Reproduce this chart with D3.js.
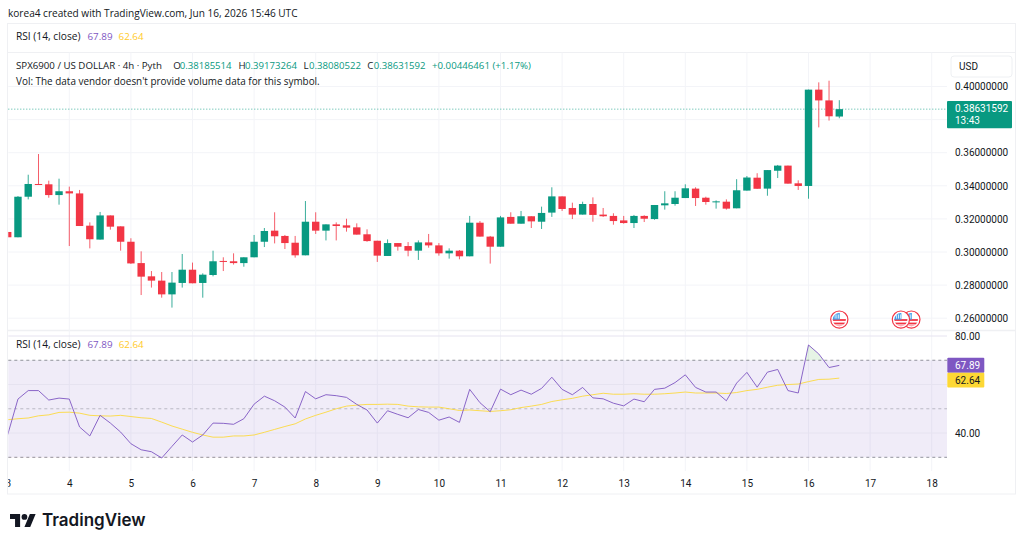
<!DOCTYPE html>
<html>
<head>
<meta charset="utf-8">
<script src="https://cdn.jsdelivr.net/npm/d3@7/dist/d3.min.js"></script>
<style>
html,body{margin:0;padding:0;background:#fff;overflow:hidden}
svg{display:block}
text{font-family:"Open Sans","Noto Sans",sans-serif;fill:#131722}
</style>
</head>
<body>
<svg id="chart" width="1024" height="546"></svg>
<script>
// SPX6900 / USD, 4h candles, one row per bar
const opens  = [.3121,.3089,.3334,.3411,.3409,.3344,.3367,.3354,.3159,.3075,.3221,.3155,.3062,.2933,.2853,.2827,.2744,.2813,.2893,.2813,.2861,.2946,.2944,.2933,.2968,.3062,.3129,.3097,.3056,.2980,.3183,.3129,.3167,.3161,.3149,.3107,.3068,.2976,.3054,.3036,.3008,.3058,.3040,.2992,.3008,.2974,.3177,.3093,.3032,.3212,.3171,.3216,.3183,.3238,.3336,.3266,.3226,.3290,.3226,.3218,.3191,.3175,.3218,.3199,.3282,.3290,.3326,.3383,.3328,.3300,.3304,.3264,.3371,.3449,.3383,.3491,.3522,.3415,.3399,.3981,.3916,.38185514];
const highs  = [.3121,.3338,.3467,.3592,.3431,.3443,.3395,.3375,.3179,.3242,.3221,.3155,.3083,.3004,.2885,.2879,.2879,.2988,.2936,.2871,.3008,.2968,.2992,.2968,.3103,.3145,.3240,.3103,.3097,.3308,.3240,.3167,.3179,.3201,.3173,.3137,.3068,.3076,.3054,.3060,.3070,.3109,.3054,.3022,.3012,.3218,.3187,.3097,.3218,.3240,.3248,.3216,.3274,.3391,.3336,.3298,.3304,.3330,.3266,.3234,.3218,.3224,.3222,.3284,.3367,.3367,.3409,.3391,.3334,.3312,.3318,.3440,.3459,.3476,.3495,.3526,.3522,.3433,.3981,.4025,.4035,.39173264];
const lows   = [.3089,.3089,.3318,.3407,.3328,.3286,.3036,.3157,.3022,.3075,.3135,.3008,.2928,.2740,.2785,.2724,.2664,.2785,.2811,.2724,.2853,.2885,.2924,.2911,.2968,.3030,.3052,.3018,.2966,.2980,.3109,.3070,.3070,.3123,.3105,.3062,.2940,.2976,.3008,.2974,.2952,.3026,.2978,.2960,.2956,.2974,.3093,.2930,.3032,.3171,.3171,.3145,.3139,.3212,.3248,.3199,.3226,.3183,.3212,.3165,.3171,.3145,.3181,.3195,.3256,.3280,.3326,.3278,.3286,.3262,.3256,.3264,.3371,.3382,.3340,.3447,.3413,.3375,.3322,.3753,.3794,.38080522];
const closes = [.3089,.3334,.3411,.3407,.3344,.3367,.3354,.3157,.3077,.3221,.3153,.3062,.2931,.2851,.2827,.2744,.2815,.2893,.2811,.2863,.2944,.2942,.2933,.2968,.3062,.3127,.3095,.3054,.2980,.3183,.3129,.3167,.3157,.3147,.3105,.3066,.2978,.3054,.3032,.3008,.3058,.3040,.2992,.3008,.2974,.3177,.3093,.3032,.3209,.3171,.3216,.3185,.3236,.3336,.3260,.3226,.3290,.3224,.3216,.3187,.3175,.3218,.3201,.3284,.3294,.3328,.3385,.3326,.3302,.3306,.3262,.3373,.3450,.3382,.3495,.3522,.3413,.3399,.3981,.3916,.3820,.38631592];

// RSI (14) and its moving average, same bars
const rsi = [39.3,54.0,57.5,57.5,53.6,54.4,54.0,42.5,38.8,47.3,44.1,40.4,35.6,33.1,32.3,29.7,34.5,39.2,36.3,39.2,44.1,44.0,43.6,45.9,51.9,55.2,53.3,50.7,46.2,57.1,54.1,55.8,55.4,54.7,51.8,49.5,44.1,49.2,47.7,46.3,49.7,48.5,45.3,46.6,44.4,58.0,52.5,48.8,58.1,55.8,57.7,56.0,58.4,63.0,58.0,55.8,58.8,54.5,54.1,52.3,51.2,54.0,52.9,58.0,58.5,60.8,64.0,58.8,56.9,56.9,53.3,60.6,65.0,58.9,65.1,66.2,57.5,56.5,76.3,72.6,67.0,67.89];
const rsiMA = [45.5,45.9,46.2,47.1,47.5,48.5,48.6,48.2,47.3,47.1,47.0,47.3,46.8,46.3,46.0,44.5,42.9,41.6,40.3,39.2,38.3,38.3,38.8,38.8,39.2,40.3,41.5,42.7,43.8,45.8,47.3,48.6,50.0,51.1,51.5,51.8,51.8,51.9,51.8,51.1,50.8,50.7,50.7,50.0,49.3,49.5,49.2,48.9,49.2,49.6,50.5,51.1,51.8,53.0,53.7,54.3,55.2,55.8,56.4,56.0,56.0,56.2,56.0,56.0,56.2,56.5,56.9,56.5,56.5,56.5,56.3,56.7,57.5,58.0,58.9,59.7,60.0,60.2,61.2,62.1,62.2,62.64];

// Axis ticks and marker dates
const dayTicks = [3,4,5,6,7,8,9,10,11,12,13,14,15,16,17,18];
const priceGrid = [0.40,0.38,0.36,0.34,0.32,0.30,0.28,0.26];
const priceLabels = [0.40,0.36,0.34,0.32,0.30,0.28,0.26];
const rsiGrid = [80,60,40];
const rsiLabels = [80,40];
const rsiBands = [70,50,30];
const eventDays = [16.5,17.5,17.67];

const lastPrice = closes[closes.length-1];
const lastRsi = rsi[rsi.length-1];
const lastMA = rsiMA[rsiMA.length-1];

const UP = "#089981", DOWN = "#f23645", VIOLET = "#7e57c2", AMBER = "#fdd835", GRID = "#f3f4f8";
const NUM = "Roboto,sans-serif";
const L = 8.3, R = 947, PRICE_TOP = 52.5, RSI_TOP = 331, RSI_BOTTOM = 471;

const svg = d3.select("#chart");
const x = d3.scaleLinear().domain([3,18]).range([7.7,931.7]);
const y = d3.scaleLinear().domain([0.26,0.40]).range([318.2,86.5]);
const yR = d3.scaleLinear().domain([30,80]).range([457.3,336]);
const barX = i => x(3 + i/6);
const bars = d3.range(opens.length).map(i => ({i,o:opens[i],h:highs[i],l:lows[i],c:closes[i]}));

const defs = svg.append("defs");
defs.append("clipPath").attr("id","plot").append("rect").attr("x",L).attr("y",PRICE_TOP).attr("width",R-L).attr("height",RSI_BOTTOM-PRICE_TOP);
defs.append("clipPath").attr("id","timeClip").append("rect").attr("x",L).attr("y",472).attr("width",R-L).attr("height",21);
defs.append("clipPath").attr("id","above70").append("rect").attr("x",L).attr("y",RSI_TOP).attr("width",R-L).attr("height",yR(70)-RSI_TOP);
defs.append("clipPath").attr("id","below30").append("rect").attr("x",L).attr("y",yR(30)).attr("width",R-L).attr("height",RSI_BOTTOM-yR(30));
defs.append("clipPath").attr("id","flagDisc").append("circle").attr("r",6.6);

// Pane frames
const frame = svg.append("g").attr("stroke","#eff0f3").attr("fill","none");
frame.append("rect").attr("x",7.5).attr("y",23.5).attr("width",1008).attr("height",470.5);
frame.append("line").attr("x1",7.5).attr("x2",1015.5).attr("y1",52.5).attr("y2",52.5);
frame.append("line").attr("x1",7.5).attr("x2",1015.5).attr("y1",330.5).attr("y2",330.5).attr("stroke-width",1.5);

// Grid
const grid = svg.append("g").attr("stroke",GRID).attr("stroke-width",1);
grid.selectAll(".gv").data(dayTicks.slice(1)).join("line")
  .attr("x1",d=>x(d)).attr("x2",d=>x(d)).attr("y1",PRICE_TOP).attr("y2",RSI_BOTTOM);
grid.selectAll(".gp").data(priceGrid).join("line")
  .attr("x1",L).attr("x2",R).attr("y1",d=>y(d)).attr("y2",d=>y(d));

// RSI background band and reference levels
svg.append("rect").attr("x",L).attr("width",R-L).attr("y",yR(70)).attr("height",yR(30)-yR(70)).attr("fill",VIOLET).attr("fill-opacity",0.115);
svg.append("g").attr("stroke","#e6e3f0").selectAll("line").data(rsiGrid).join("line")
  .attr("x1",L).attr("x2",R).attr("y1",d=>yR(d)).attr("y2",d=>yR(d));
svg.append("g").selectAll("line").data(rsiBands).join("line")
  .attr("x1",L).attr("x2",R).attr("y1",d=>yR(d)).attr("y2",d=>yR(d))
  .attr("stroke","#787b86").attr("stroke-opacity",d=>d===50?0.45:0.8).attr("stroke-dasharray","3 3");

// Last price line
svg.append("line").attr("x1",L).attr("x2",R).attr("y1",y(lastPrice)).attr("y2",y(lastPrice))
  .attr("stroke",UP).attr("stroke-opacity",.75).attr("stroke-dasharray","1 2");

// Candles
const plot = svg.append("g").attr("clip-path","url(#plot)");
plot.selectAll(".wick").data(bars).join("line").attr("class","wick")
  .attr("x1",d=>barX(d.i)).attr("x2",d=>barX(d.i)).attr("y1",d=>y(d.h)).attr("y2",d=>y(d.l))
  .attr("stroke",d=>d.c>=d.o?UP:DOWN).attr("stroke-width",1).attr("stroke-opacity",.8);
plot.selectAll(".body").data(bars).join("rect").attr("class","body")
  .attr("x",d=>barX(d.i)-3.7).attr("width",7.4)
  .attr("y",d=>y(Math.max(d.o,d.c))).attr("height",d=>Math.max(1,Math.abs(y(d.o)-y(d.c))))
  .attr("fill",d=>d.c>=d.o?UP:DOWN);

// RSI overbought and oversold shading
const series = svg.append("g").attr("clip-path","url(#plot)");
series.append("path").datum(rsi).attr("clip-path","url(#above70)")
  .attr("d",d3.area().x((d,i)=>barX(i)).y0(yR(70)).y1(d=>yR(d))).attr("fill","#4caf50").attr("fill-opacity",.14);
series.append("path").datum(rsi).attr("clip-path","url(#below30)")
  .attr("d",d3.area().x((d,i)=>barX(i)).y0(yR(30)).y1(d=>yR(d))).attr("fill","#f23645").attr("fill-opacity",.14);
// RSI and moving average lines
const rsiLine = d3.line().x((d,i)=>barX(i)).y(d=>yR(d));
series.append("path").datum(rsiMA).attr("d",rsiLine).attr("fill","none").attr("stroke",AMBER).attr("stroke-opacity",.85).attr("stroke-width",1);
series.append("path").datum(rsi).attr("d",rsiLine).attr("fill","none").attr("stroke",VIOLET).attr("stroke-opacity",.9).attr("stroke-width",1);

// Economic event markers
const flag = svg.append("g").selectAll("g").data(eventDays.slice().reverse()).join("g")
  .attr("transform",d=>`translate(${x(d)},319.6)`);
flag.append("circle").attr("r",8.6).attr("fill","#fff").attr("stroke",DOWN).attr("stroke-width",1.2);
const disc = flag.append("g").attr("clip-path","url(#flagDisc)");
disc.append("circle").attr("r",6.6).attr("fill","#fff");
disc.selectAll(".stripe").data([-0.5,3,6]).join("rect").attr("x",-7).attr("width",14).attr("y",d=>d).attr("height",1.8).attr("fill",DOWN);
disc.append("rect").attr("x",-7).attr("y",-7).attr("width",7.5).attr("height",7).attr("fill","#3d9be9");
disc.selectAll(".star").data([-4.6,-2.8,-1]).join("rect").attr("x",d=>d).attr("y",-5.2).attr("width",.8).attr("height",4.2).attr("fill","#fff");

// Axes
function styleAxis(g){
  g.select(".domain").remove();
  g.selectAll(".tick line").remove();
  g.selectAll("text").attr("fill","#131722").attr("font-size",10).style("font-family",NUM);
}
svg.append("g").attr("transform",`translate(955,0)`)
  .call(d3.axisRight(y).tickValues(priceLabels).tickFormat(d3.format(".8f")).tickSize(0).tickPadding(0))
  .call(styleAxis);
svg.append("g").attr("transform",`translate(955,0)`)
  .call(d3.axisRight(yR).tickValues(rsiLabels).tickFormat(d3.format(".2f")).tickSize(0).tickPadding(0))
  .call(styleAxis);
const timeG = svg.append("g").attr("clip-path","url(#timeClip)");
timeG.append("g").attr("transform",`translate(0,476.5)`)
  .call(d3.axisBottom(x).tickValues(dayTicks).tickFormat(d3.format("d")).tickSize(0).tickPadding(3))
  .call(styleAxis);

// Price scale badges
function badge(x0,x1,y0,y1,fill){
  svg.append("rect").attr("x",x0).attr("y",y0).attr("width",x1-x0).attr("height",y1-y0).attr("fill",fill).attr("rx",1);
}
function label(s,x0,yb,size,fill,family){
  return svg.append("text").attr("x",x0).attr("y",yb).attr("font-size",size)
    .style("fill",fill||"#131722").style("font-family",family||null).text(s);
}
svg.append("rect").attr("x",951).attr("y",56).attr("width",61).attr("height",21).attr("rx",3).attr("fill","#fff").attr("stroke","#eef0f3");
label("USD",959,70,10,null,NUM);
badge(947,1012,101,128.3,UP);
label(d3.format(".8f")(lastPrice),955,112.4,10,"#fff",NUM);
label("13:43",955,124.4,10,"#fff",NUM);
badge(947.3,984.3,357.7,372.7,VIOLET);
label(d3.format(".2f")(lastRsi),955,368.8,10,"#fff",NUM);
badge(947.3,984.3,372.7,387.5,AMBER);
label(d3.format(".2f")(lastMA),955,383.8,10,"#131722",NUM);

// Header and legends
label("korea4 created with TradingView.com, Jun 16, 2026 15:46 UTC",8,17,10.08);
label("RSI (14, close)",16,40,10.2);
label(d3.format(".2f")(lastRsi),87.5,40,9.8,VIOLET);
label(d3.format(".2f")(lastMA),118.6,40,9.8,"#ffca28");
label("SPX6900 / US DOLLAR · 4h · Pyth",16,69,9.7);
const ohlc = [["O",173.2],["H",238.6],["L",303.6],["C",367.2]];
[opens,highs,lows,closes].forEach((arr,j)=>{
  const [k,px] = ohlc[j];
  label(k,px,69,9.7);
  label(d3.format(".8f")(arr[arr.length-1]),px+(k==="L"?5.5:6.5),69,9.6,UP);
});
label("+0.00446461 (+1.17%)",432,69,9.7,UP);
label("Vol: The data vendor doesn't provide volume data for this symbol.",16,85,9.93);
label("RSI (14, close)",16,347.5,10.2);
label(d3.format(".2f")(lastRsi),87.5,347.5,9.8,VIOLET);
label(d3.format(".2f")(lastMA),118.7,347.5,9.8,"#ffca28");

// Brand mark
const logo = svg.append("g").attr("transform","translate(10,511.1) scale(.722)").attr("fill","#131722");
logo.append("path").attr("d","M14 22H7V11H0V4h14v18zM28 22h-8l7.5-18h8L28 22z");
logo.append("circle").attr("cx",20).attr("cy",8).attr("r",4);
svg.append("text").attr("x",42).attr("y",526).attr("font-size",17).attr("font-weight",600)
  .style("font-family","Inter,Roboto,sans-serif").text("TradingView");
</script>
</body>
</html>
